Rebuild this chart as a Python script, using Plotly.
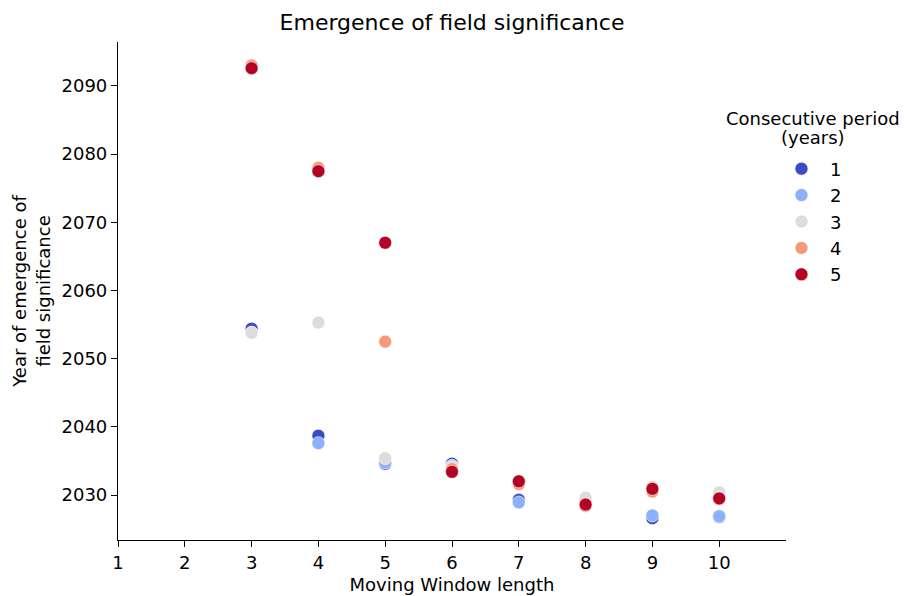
import plotly.graph_objects as go

window_length = [3, 4, 5, 6, 7, 8, 9, 10]
period_labels = ["1", "2", "3", "4", "5"]
colors = ["#3b4cc0", "#8db0fe", "#dddcdc", "#f49a7b", "#b40426"]

period_1 = [2054.4, 2038.7, 2034.6, 2034.6, 2029.3, 2029.4, 2026.6, 2026.8]
period_2 = [2053.8, 2037.6, 2034.8, 2034.3, 2028.9, 2029.3, 2027.0, 2026.9]
period_3 = [2053.8, 2055.3, 2035.4, 2034.1, 2031.8, 2029.6, 2031.2, 2030.4]
period_4 = [2093.0, 2078.0, 2052.5, 2033.8, 2031.6, 2028.4, 2030.5, 2029.4]
period_5 = [2092.6, 2077.5, 2067.0, 2033.4, 2032.0, 2028.6, 2030.9, 2029.5]
series = [period_1, period_2, period_3, period_4, period_5]

x_ticks = list(range(1, 11))
y_ticks = list(range(2030, 2091, 10))

FONT = "DejaVu Sans"
fig = go.Figure()
for i, (lab, vals) in enumerate(zip(period_labels, series)):
    fig.add_trace(go.Scatter(
        x=window_length, y=vals, mode="markers", name=lab,
        legendgroup=lab,
        marker=dict(size=13, color=colors[i], line=dict(color="white", width=0.6)),
    ))

fig.update_layout(
    width=904, height=596,
    margin=dict(l=118, r=118, t=42, b=56, autoexpand=False),
    paper_bgcolor="white", plot_bgcolor="white",
    font=dict(family=FONT, size=18, color="black"),
    title=dict(text="Emergence of field significance", x=0.5, xanchor="center",
               xref="paper", yref="container",
               y=1 - 15 / 596, yanchor="top", font=dict(size=22)),
    showlegend=True,
    legend=dict(x=0.9805, xanchor="left", y=(540 - 150.5) / 498, yanchor="top",
                font=dict(size=18), tracegroupgap=0, itemwidth=47,
                bgcolor="rgba(0,0,0,0)"),
    annotations=[
        dict(text="Consecutive period", xref="paper", yref="paper",
             x=(813 - 118) / 668, y=(540 - 118) / 498, xanchor="center",
             yanchor="middle", showarrow=False, font=dict(size=18)),
        dict(text="(years)", xref="paper", yref="paper",
             x=(813 - 118) / 668, y=(540 - 138) / 498, xanchor="center",
             yanchor="middle", showarrow=False, font=dict(size=18)),
    ],
)
fig.update_xaxes(range=[1, 11], tickvals=x_ticks, ticktext=[str(t) for t in x_ticks],
                 showgrid=False, zeroline=False, showline=True, linecolor="black",
                 linewidth=1.2, ticks="outside", ticklen=6, tickcolor="black",
                 automargin=False,
                 title=dict(text="Moving Window length", standoff=6, font=dict(size=18)))
fig.update_yaxes(range=[2023.4, 2096.45], tickvals=y_ticks,
                 showgrid=False, zeroline=False, showline=True, linecolor="black",
                 linewidth=1.2, ticks="outside", ticklen=6, tickcolor="black",
                 automargin=False,
                 title=dict(text="Year of emergence of<br>field significance", standoff=6,
                            font=dict(size=18)))

fig.write_html("out.html", post_script="document.body.style.margin='0';",
               config={"displayModeBar": False})
